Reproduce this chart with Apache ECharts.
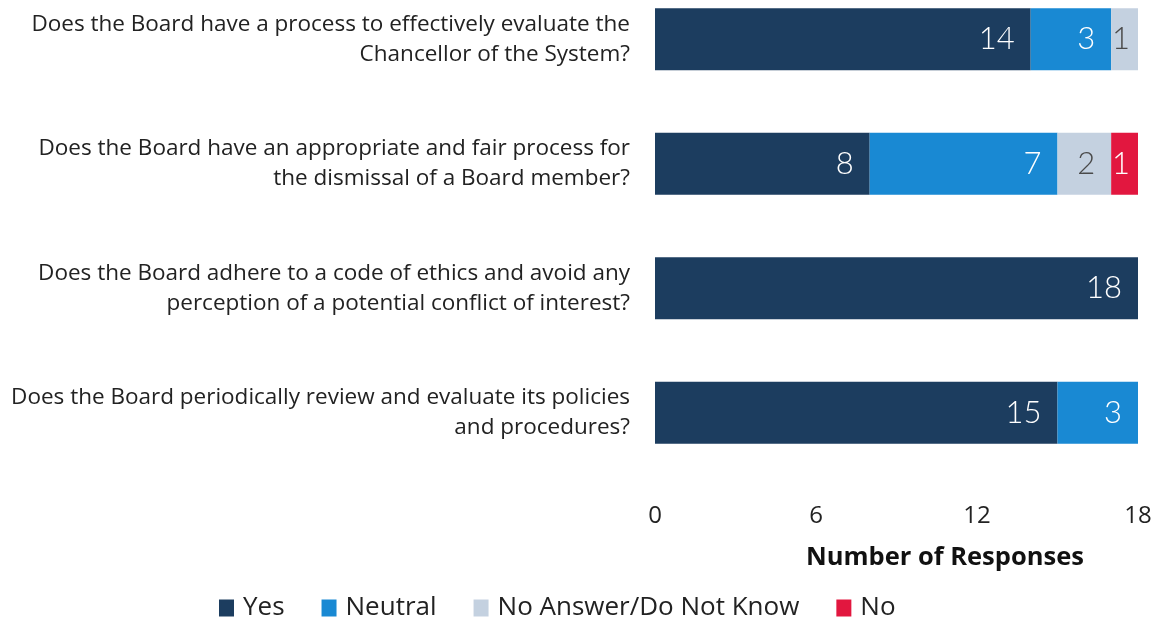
<!DOCTYPE html>
<html>
<head>
<meta charset="utf-8">
<script src="https://cdn.jsdelivr.net/npm/echarts@6/dist/echarts.min.js"></script>
<style>
  html, body { margin: 0; padding: 0; background: #fff; overflow: hidden; }
  /* the canvas starts a little above the page so the first bar sits near the top edge */
  #chart { width: 1176px; height: 643px; margin-top: -23px; }
</style>
</head>
<body>
<div id="chart"></div>
<script>
// Board self-assessment survey: response counts per question
const questions = [
  'Does the Board have a process to effectively evaluate the\nChancellor of the System?',
  'Does the Board have an appropriate and fair process for\nthe dismissal of a Board member?',
  'Does the Board adhere to a code of ethics and avoid any\nperception of a potential conflict of interest?',
  'Does the Board periodically review and evaluate its policies\nand procedures?'
];
const yesCounts = [14, 8, 18, 15];
const neutralCounts = [3, 7, 0, 3];
const noAnswerCounts = [1, 2, 0, 0];
const noCounts = [0, 1, 0, 0];
const xTicks = [0, 6, 12, 18];

const seriesNames = ['Yes', 'Neutral', 'No Answer/Do Not Know', 'No'];
const seriesColors = ['#1c3d5f', '#1989d3', '#c4d1e0', '#e2173f'];
const labelColors = ['#ffffff', '#ffffff', '#4a4a4a', '#ffffff'];
const seriesData = [yesCounts, neutralCounts, noAnswerCounts, noCounts];

const textFont = '"Open Sans", "Noto Sans", sans-serif';
const valueFont = 'Lato, "Open Sans", sans-serif';

const chart = echarts.init(document.getElementById('chart'), null, { renderer: 'canvas' });

chart.setOption({
  animation: false,
  backgroundColor: '#ffffff',
  textStyle: { fontFamily: textFont },
  grid: { left: 655, right: 38, top: 0, bottom: 145, containLabel: false },
  xAxis: {
    type: 'value',
    min: xTicks[0],
    max: xTicks[xTicks.length - 1],
    interval: xTicks[1] - xTicks[0],
    axisLine: { show: false },
    axisTick: { show: false },
    splitLine: { show: false },
    axisLabel: { color: '#222', fontSize: 24, margin: 29, fontFamily: textFont }
  },
  yAxis: {
    type: 'category',
    inverse: true,
    data: questions,
    axisLine: { show: false },
    axisTick: { show: false },
    axisLabel: {
      color: '#222',
      fontSize: 22.5,
      lineHeight: 30,
      align: 'right',
      margin: 25,
      fontFamily: textFont
    }
  },
  legend: {
    data: seriesNames,
    left: 214,
    top: 613,
    itemWidth: 15,
    itemHeight: 17,
    itemGap: 37,
    icon: 'rect',
    textStyle: { color: '#222', fontSize: 26, fontFamily: textFont, padding: [0, 0, 0, 4] }
  },
  graphic: [{
    type: 'text',
    left: 806,
    top: 568,
    style: {
      text: 'Number of Responses',
      fill: '#111',
      font: 'bold 25.5px ' + textFont
    }
  }],
  series: seriesNames.map((name, i) => ({
    name: name,
    type: 'bar',
    stack: 'total',
    barWidth: 62,
    data: seriesData[i].map(v => {
      if (v === 0) return null;
      // single-response segments are narrow, keep their label closer to the edge
      return v === 1 ? { value: v, label: { distance: 8 } } : v;
    }),
    itemStyle: { color: seriesColors[i] },
    label: {
      show: true,
      position: 'insideRight',
      distance: 16,
      color: labelColors[i],
      fontSize: 31,
      fontFamily: valueFont,
      fontWeight: 300
    }
  }))
});
</script>
</body>
</html>
